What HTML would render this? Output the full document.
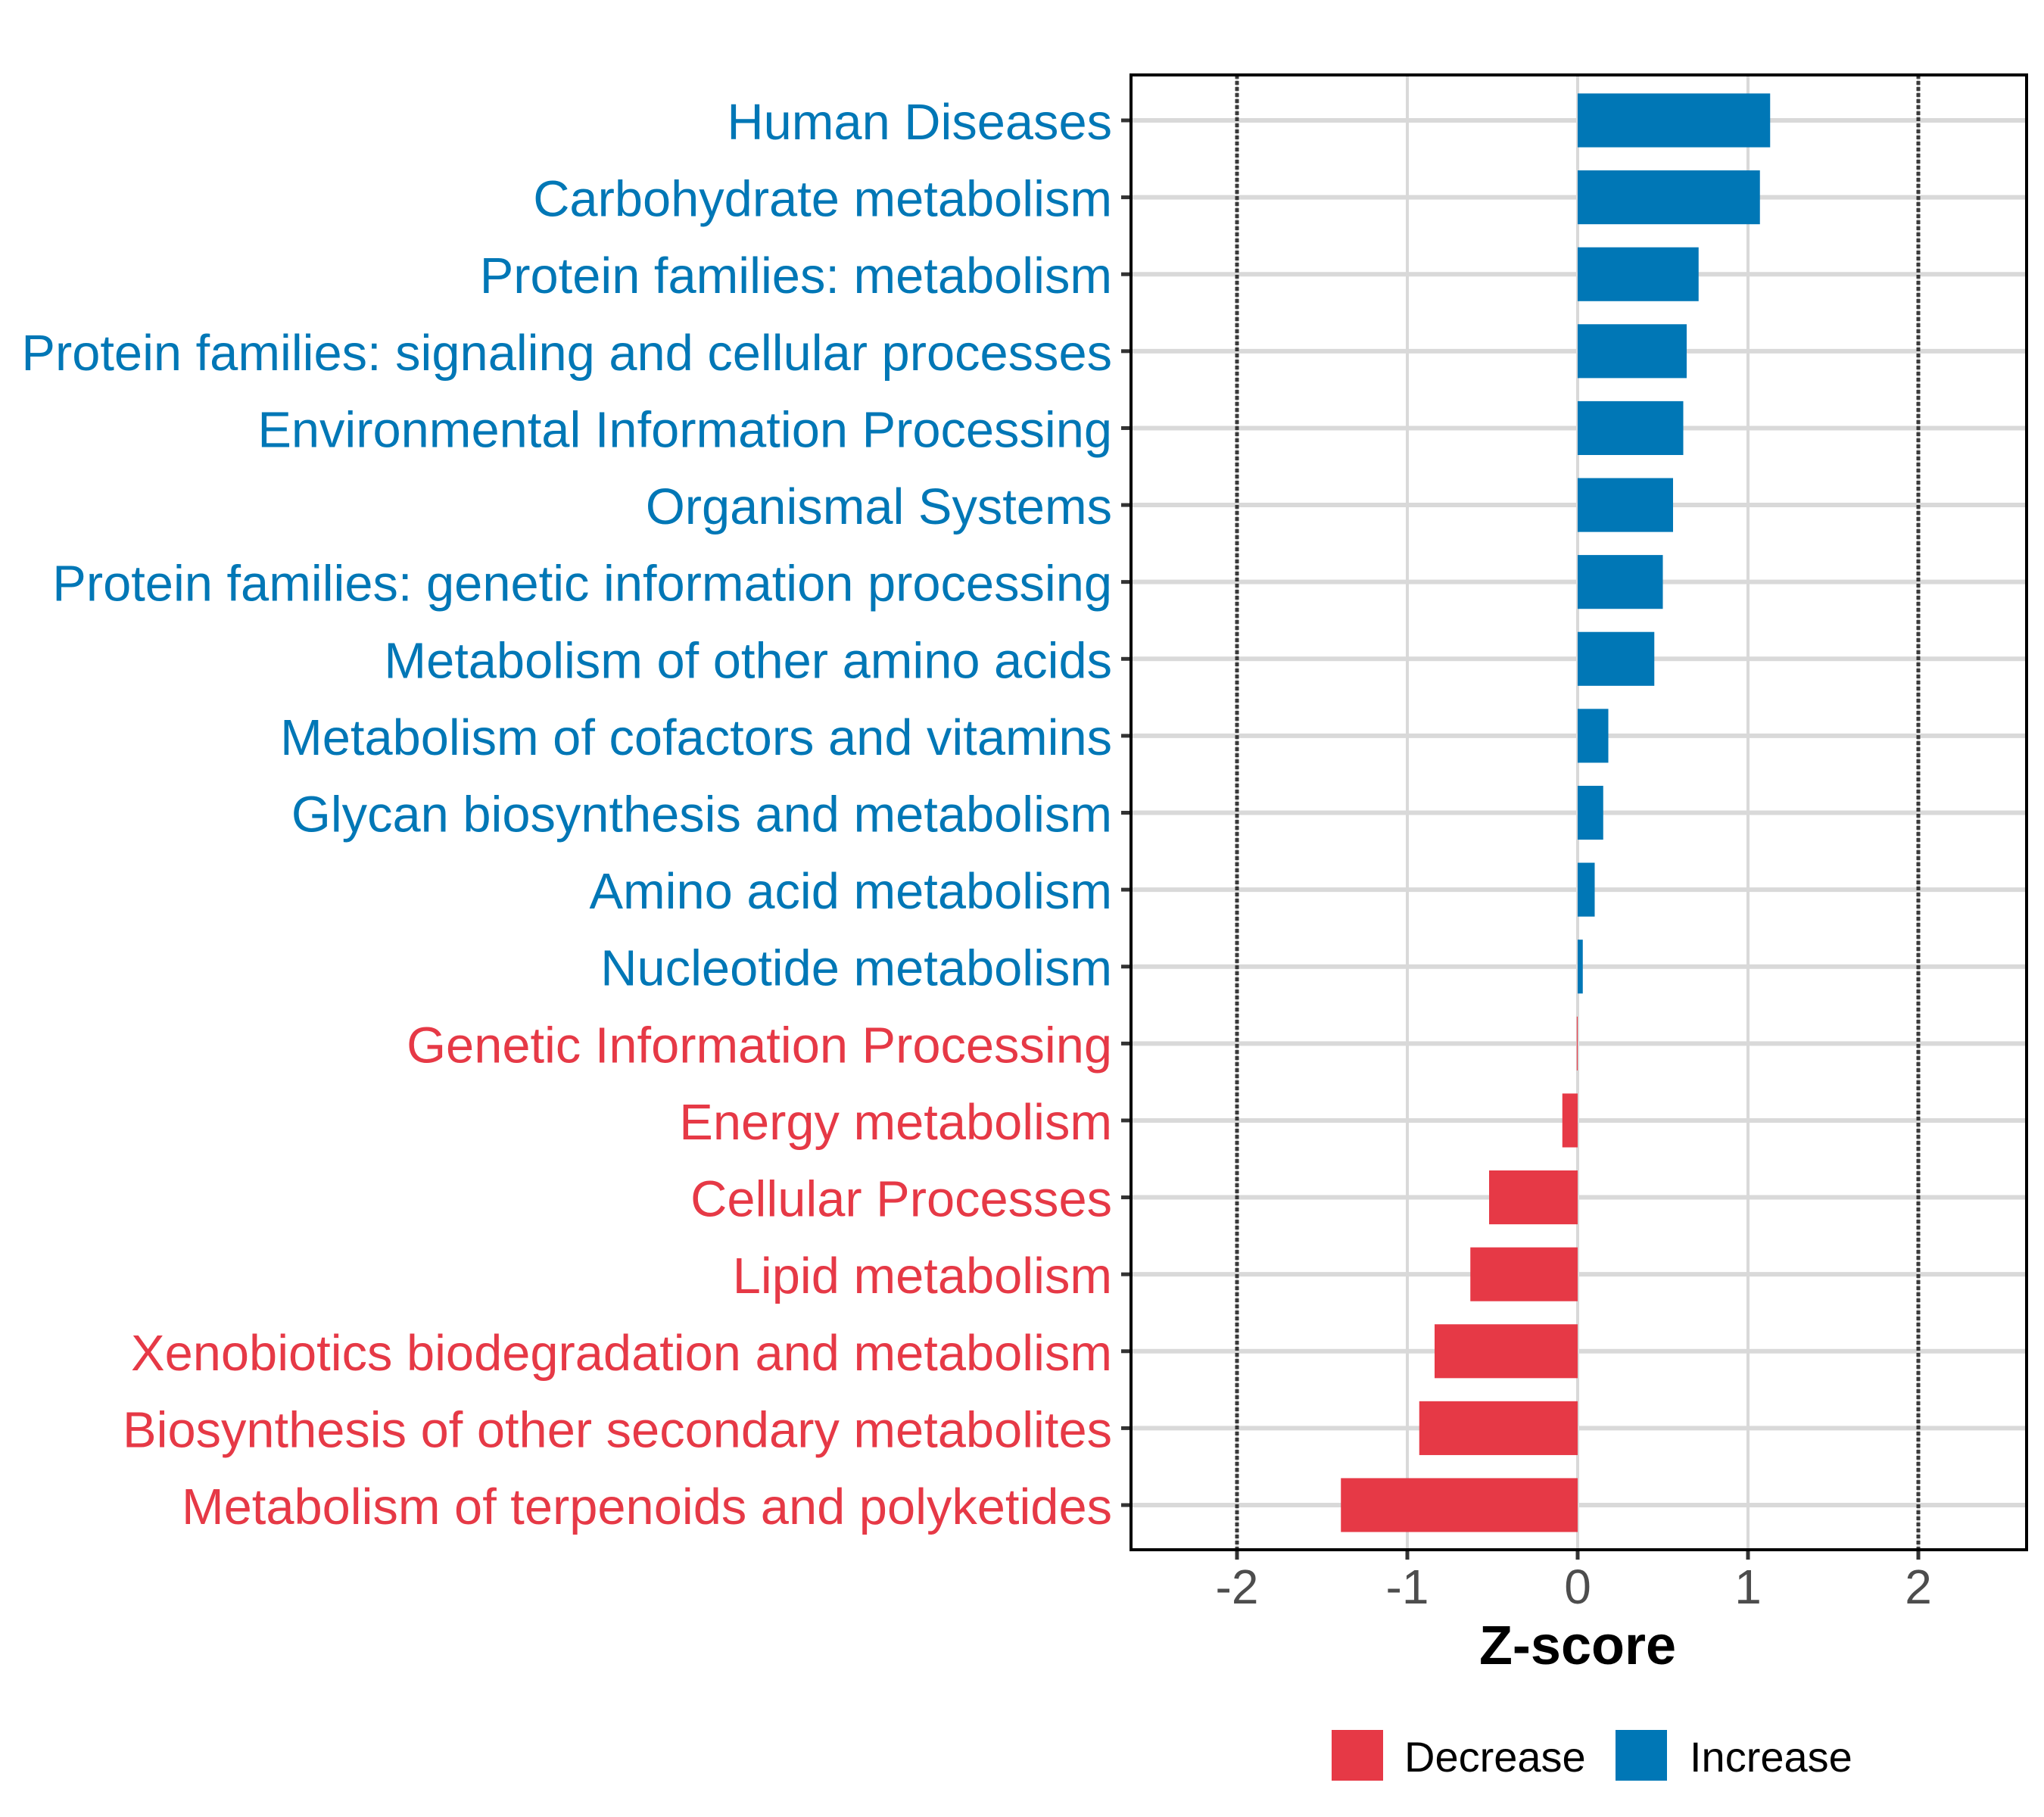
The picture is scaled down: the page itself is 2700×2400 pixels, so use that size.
<!DOCTYPE html>
<html><head><meta charset="utf-8">
<style>
html,body{margin:0;padding:0;background:#fff;}
svg{display:block;font-family:"Liberation Sans",Arial,sans-serif;}
</style></head>
<body>
<svg id="chart" width="2700" height="2400" viewBox="0 0 2700 2400" xmlns="http://www.w3.org/2000/svg">
<rect x="0" y="0" width="2700" height="2400" fill="#fff"/>
<g id="grid"></g>
<g id="bars"></g>
<g id="ylabels"></g>
<g id="xticks"></g>
<rect x="1494" y="99" width="1183" height="1948" fill="none" stroke="#000" stroke-width="4"/>
<text x="2084" y="2198" text-anchor="middle" font-size="72" font-weight="bold" fill="#000">Z-score</text>
<g>
  <rect x="1759" y="2285" width="68" height="67" fill="#E63946"/>
  <text x="1855" y="2340" font-size="56" fill="#000">Decrease</text>
  <rect x="2134" y="2285" width="68" height="67" fill="#0077B6"/>
  <text x="2232" y="2340" font-size="56" fill="#000">Increase</text>
</g>
</svg>
<script>
const categories = ["Human Diseases","Carbohydrate metabolism","Protein families: metabolism","Protein families: signaling and cellular processes","Environmental Information Processing","Organismal Systems","Protein families: genetic information processing","Metabolism of other amino acids","Metabolism of cofactors and vitamins","Glycan biosynthesis and metabolism","Amino acid metabolism","Nucleotide metabolism","Genetic Information Processing","Energy metabolism","Cellular Processes","Lipid metabolism","Xenobiotics biodegradation and metabolism","Biosynthesis of other secondary metabolites","Metabolism of terpenoids and polyketides"];
const zscores = [1.13,1.07,0.71,0.64,0.62,0.56,0.50,0.45,0.18,0.15,0.10,0.03,-0.005,-0.09,-0.52,-0.63,-0.84,-0.93,-1.39];
const xTicks = [-2,-1,0,1,2];
const xTickLabels = ["-2","-1","0","1","2"];
const refLines = [-2,2];

const NS="http://www.w3.org/2000/svg";
const PL=1494, PR=2677, PT=99, PB=2047;
const X0=2084, UNIT=225;
const x = v => X0 + v*UNIT;
const Y_FIRST=159, STEP=(1988-159)/(categories.length-1);
const y = i => Y_FIRST + i*STEP;
const BAR_H = STEP*0.7;
const BLUE="#0077B6", RED="#E63946";
function mk(tag, attrs, parent){const e=document.createElementNS(NS,tag);for(const k in attrs)e.setAttribute(k,attrs[k]);parent.appendChild(e);return e;}
const grid=document.getElementById('grid'), bars=document.getElementById('bars'), yl=document.getElementById('ylabels'), xt=document.getElementById('xticks');

categories.forEach((c,i)=>{
  const g=mk('line',{x1:PL,x2:PR,y1:y(i),y2:y(i),stroke:"#d9d9d9","stroke-width":6},grid);
  
  
});
xTicks.forEach(v=>{
  const g=mk('line',{x1:x(v),x2:x(v),y1:PT,y2:PB,stroke:"#d9d9d9","stroke-width":4},grid);
  
  
});
refLines.forEach(v=>{
  const g=mk('line',{x1:x(v),x2:x(v),y1:PT,y2:PB,stroke:"#3a3a3a","stroke-width":5,"stroke-dasharray":"5 3"},grid);
  
  
});
categories.forEach((c,i)=>{
  const v=zscores[i];
  const col = v>0?BLUE:RED;
  const r=mk('rect',{x:Math.min(x(0),x(v)),y:y(i)-BAR_H/2,width:Math.max(Math.abs(x(v)-x(0)),1),height:BAR_H,fill:col},bars);
  
  
  const t=mk('line',{x1:PL-13,x2:PL,y1:y(i),y2:y(i),stroke:"#333","stroke-width":5},yl);
  
  
  const lb=mk('text',{x:1469,y:y(i)+25,"text-anchor":"end","font-size":66.8,fill:col},yl);
  lb.textContent=c;
  
  
});
xTicks.forEach((v,k)=>{
  const t=mk('line',{x1:x(v),x2:x(v),y1:PB,y2:PB+13,stroke:"#333","stroke-width":5},xt);
  
  
  const lb=mk('text',{x:x(v),y:2118,"text-anchor":"middle","font-size":64,fill:"#4d4d4d"},xt);
  lb.textContent=xTickLabels[k];
  
  
});
</script>
</body></html>
